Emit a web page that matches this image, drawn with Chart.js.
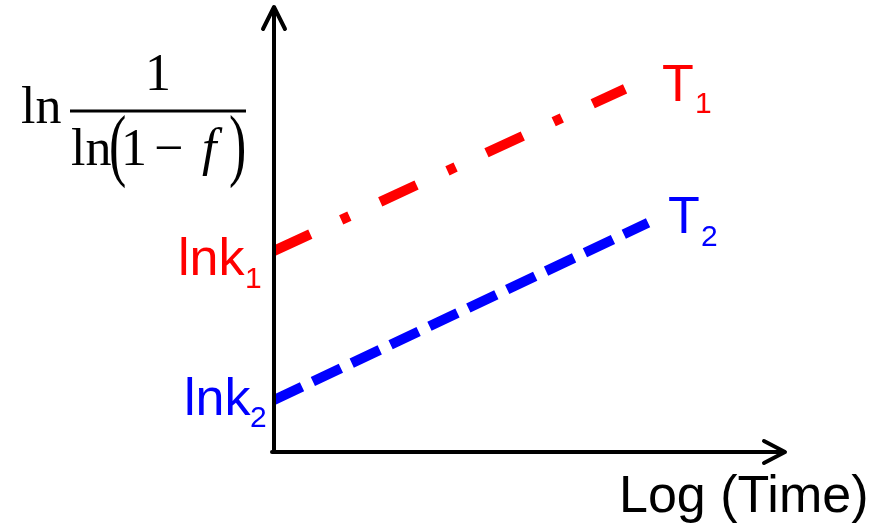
<!DOCTYPE html>
<html>
<head>
<meta charset="utf-8">
<script src="https://cdn.jsdelivr.net/npm/chart.js@4/dist/chart.umd.min.js"></script>
<style>
  body { margin: 0; background: #fff; }
  #wrap { position: relative; width: 885px; height: 524px; }
</style>
</head>
<body>
<div id="wrap"><canvas id="chart"></canvas></div>
<script>
// log(time) and ln(1/ln(1-f)) values, in axis units (0..10 on both axes)
const t1Time = [0, 6.87]
const t1Value = [4.52, 8.16]
const t2Time = [0, 7.32]
const t2Value = [1.17, 5.15]

const axisMin = 0
const axisMax = 10

const toPoints = (xs, ys) => xs.map((x, i) => ({ x: x, y: ys[i] }))

// axes with arrow heads + all the text labels
const sketchPlugin = {
    id: 'sketch',
    afterDatasetsDraw(chart) {
        const ctx = chart.ctx
        const xs = chart.scales.x
        const ys = chart.scales.y
        const x0 = xs.getPixelForValue(axisMin)
        const y0 = ys.getPixelForValue(axisMin)
        const xEnd = xs.getPixelForValue(axisMax)
        const yEnd = ys.getPixelForValue(axisMax)

        ctx.save()
        ctx.strokeStyle = '#000'
        ctx.lineWidth = 4
        ctx.lineCap = 'round'
        ctx.lineJoin = 'round'
        // y axis
        ctx.beginPath()
        ctx.moveTo(x0, y0)
        ctx.lineTo(x0, yEnd + 2)
        ctx.moveTo(x0 - 11, yEnd + 22)
        ctx.lineTo(x0, yEnd)
        ctx.lineTo(x0 + 11, yEnd + 22)
        ctx.stroke()
        // x axis
        ctx.beginPath()
        ctx.moveTo(x0 - 2, y0)
        ctx.lineTo(xEnd - 2, y0)
        ctx.moveTo(xEnd - 21, y0 - 11)
        ctx.lineTo(xEnd, y0)
        ctx.lineTo(xEnd - 21, y0 + 11)
        ctx.stroke()

        const sans = '"Liberation Sans", Arial, sans-serif'
        const serif = '"Liberation Serif", "Times New Roman", serif'
        ctx.textBaseline = 'alphabetic'
        ctx.textAlign = 'left'

        // intercept labels
        ctx.fillStyle = '#ff0000'
        ctx.font = '52px ' + sans
        ctx.fillText('lnk', 178, 275)
        ctx.font = '30px ' + sans
        ctx.fillText('1', 245, 288)

        ctx.fillStyle = '#0000ff'
        ctx.font = '52px ' + sans
        ctx.fillText('lnk', 184, 415)
        ctx.font = '30px ' + sans
        ctx.fillText('2', 250, 427)

        // series labels
        ctx.fillStyle = '#ff0000'
        ctx.font = '52px ' + sans
        ctx.fillText('T', 662, 101)
        ctx.font = '30px ' + sans
        ctx.fillText('1', 695, 113)

        ctx.fillStyle = '#0000ff'
        ctx.font = '52px ' + sans
        ctx.fillText('T', 668, 233)
        ctx.font = '30px ' + sans
        ctx.fillText('2', 701, 246)

        // x axis title
        ctx.fillStyle = '#000'
        ctx.font = '52px ' + sans
        ctx.fillText('Log (Time)', 619, 512)

        // y axis title: ln 1/ln(1-f)
        ctx.font = '52px ' + serif
        ctx.fillText('ln', 21, 123)
        ctx.fillRect(70, 109.5, 176, 3)
        ctx.textAlign = 'center'
        ctx.fillText('1', 158, 90)
        ctx.textAlign = 'left'
        ctx.fillText('ln', 71, 165)
        ctx.fillText('1', 121, 165)
        ctx.fillText('\u2212', 154, 165)
        ctx.font = 'italic 52px ' + serif
        ctx.fillText('f', 202, 165)
        ctx.font = '52px ' + serif
        const paren = (ch, x) => {
            ctx.save()
            ctx.translate(x, 150)
            ctx.scale(1, 1.55)
            ctx.fillText(ch, 0, 13.3)
            ctx.restore()
        }
        paren('(', 109)
        paren(')', 229)
        ctx.restore()
    }
}

new Chart(document.getElementById('chart'), {
    type: 'line',
    data: {
        datasets: [{
            label: 'T1',
            data: toPoints(t1Time, t1Value),
            borderColor: '#ff0000',
            borderWidth: 10,
            borderDash: [40, 34, 9, 34],
            borderCapStyle: 'butt',
            pointRadius: 0,
            tension: 0,
            clip: false,
        }, {
            label: 'T2',
            data: toPoints(t2Time, t2Value),
            borderColor: '#0000ff',
            borderWidth: 10,
            borderDash: [31, 12],
            borderCapStyle: 'butt',
            pointRadius: 0,
            tension: 0,
            clip: false,
        }]
    },
    options: {
        responsive: true,
        maintainAspectRatio: false,
        animation: false,
        layout: {
            padding: { left: 274, right: 100, top: 7, bottom: 72 }
        },
        plugins: {
            legend: { display: false },
            tooltip: { enabled: false },
        },
        scales: {
            x: { type: 'linear', min: axisMin, max: axisMax, display: false },
            y: { type: 'linear', min: axisMin, max: axisMax, display: false },
        },
    },
    plugins: [sketchPlugin]
})
</script>
</body>
</html>
